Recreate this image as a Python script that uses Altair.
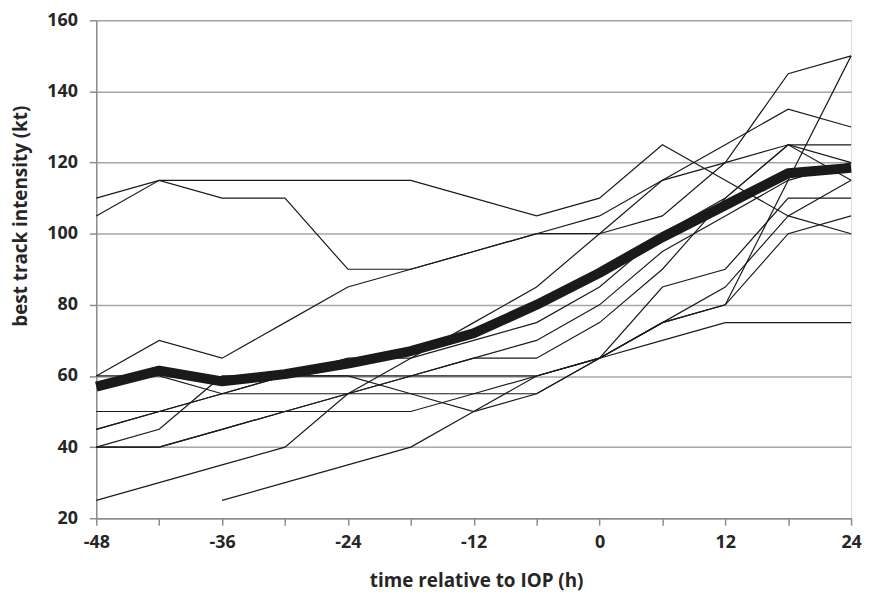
import altair as alt
import pandas as pd

hours = [-48, -42, -36, -30, -24, -18, -12, -6, 0, 6, 12, 18, 24]

storm_01 = [110, 115, 115, 115, 115, 115, 110, 105, 110, 125, 115, 105, 100]
storm_02 = [105, 115, 110, 110, 90, 90, 95, 100, 105, 115, 125, 135, 130]
storm_03 = [60, 70, 65, 75, 85, 90, 95, 100, 100, 105, 120, 145, 150]
storm_04 = [60, 60, 55, 55, 55, 60, 65, 65, 75, 90, 110, 125, 125]
storm_05 = [50, 50, 50, 50, 50, 50, 55, 60, 65, 85, 90, 110, 110]
storm_06 = [45, 50, 55, 60, 65, 65, 70, 75, 85, 100, 110, 125, 120]
storm_07 = [40, 45, 60, 60, 60, 60, 60, 60, 65, 75, 80, 115, 150]
storm_08 = [40, 40, 45, 50, 55, 55, 55, 55, 65, 70, 75, 75, 75]
storm_09 = [25, 30, 35, 40, 55, 65, 75, 85, 100, 115, 120, 125, 115]
storm_10 = [None, None, 25, 30, 35, 40, 50, 60, 65, 75, 85, 105, 115]
storm_11 = [45, 50, 55, 60, 60, 55, 50, 55, 65, 75, 80, 100, 105]
storm_12 = [40, 40, 45, 50, 55, 60, 65, 70, 80, 95, 105, 115, 120]

mean_intensity = [57, 61.5, 58.5, 60.5, 63.5, 67, 72, 80, 89, 99, 108, 117, 118.5]

series = {
    "s01": storm_01, "s02": storm_02, "s03": storm_03, "s04": storm_04,
    "s05": storm_05, "s06": storm_06, "s07": storm_07, "s08": storm_08,
    "s09": storm_09, "s10": storm_10, "s11": storm_11, "s12": storm_12,
}

rows = []
for name, vals in series.items():
    for h, v in zip(hours, vals):
        if v is not None:
            rows.append({"storm": name, "t": h, "v": v})
df = pd.DataFrame(rows)
mean_df = pd.DataFrame({"t": hours, "v": mean_intensity})

FONT = "Open Sans"
TXT = "#262626"
AX = "#8C8C8C"

x_enc = alt.X(
    "t:Q",
    scale=alt.Scale(domain=[-48, 24], nice=False, zero=False),
    axis=alt.Axis(
        values=hours,
        labelExpr="datum.value % 12 == 0 ? toString(datum.value) : ''",
        grid=False,
        domainColor=AX, domainWidth=1.5,
        tickColor=AX, tickWidth=1.5, tickSize=7,
        labelFont=FONT, labelFontSize=18, labelFontWeight="bold", labelColor=TXT,
        labelPadding=9, labelFlush=False,
        title="time relative to IOP (h)",
        titleFont=FONT, titleFontSize=19, titleFontWeight="bold", titleColor=TXT,
        titleX=383, titleY=63, titleBaseline="middle",
    ),
)
y_enc = alt.Y(
    "v:Q",
    scale=alt.Scale(domain=[20, 160], nice=False, zero=False),
    axis=alt.Axis(
        values=[20, 40, 60, 80, 100, 120, 140, 160],
        grid=True, gridColor="#A6A6A6", gridWidth=1.5,
        domainColor=AX, domainWidth=1.5,
        tickColor=AX, tickWidth=1.5, tickSize=7,
        labelFont=FONT, labelFontSize=18, labelFontWeight="bold", labelColor=TXT,
        labelPadding=12,
        title="best track intensity (kt)",
        titleFont=FONT, titleFontSize=19, titleFontWeight="bold", titleColor=TXT,
        titleX=-76, titleY=197, titleBaseline="middle", titleAngle=270,
        titleLimit=400,
    ),
)

thin = alt.Chart(df).mark_line(color="#1A1A1A", strokeWidth=1.2).encode(
    x=x_enc, y=y_enc, detail="storm:N", order="t:Q"
)
thick = alt.Chart(mean_df).mark_line(color="#1A1A1A", strokeWidth=10, strokeJoin="round").encode(
    x="t:Q", y="v:Q"
)

chart = (thin + thick).properties(
    width=761,
    height=502,
    autosize=alt.AutoSizeParams(type="none"),
    padding={"left": 89, "top": 10, "right": 12, "bottom": 75},
).configure_view(stroke=None).configure(background="white")

chart.save("out.html", embed_options={"renderer": "svg", "actions": False})
